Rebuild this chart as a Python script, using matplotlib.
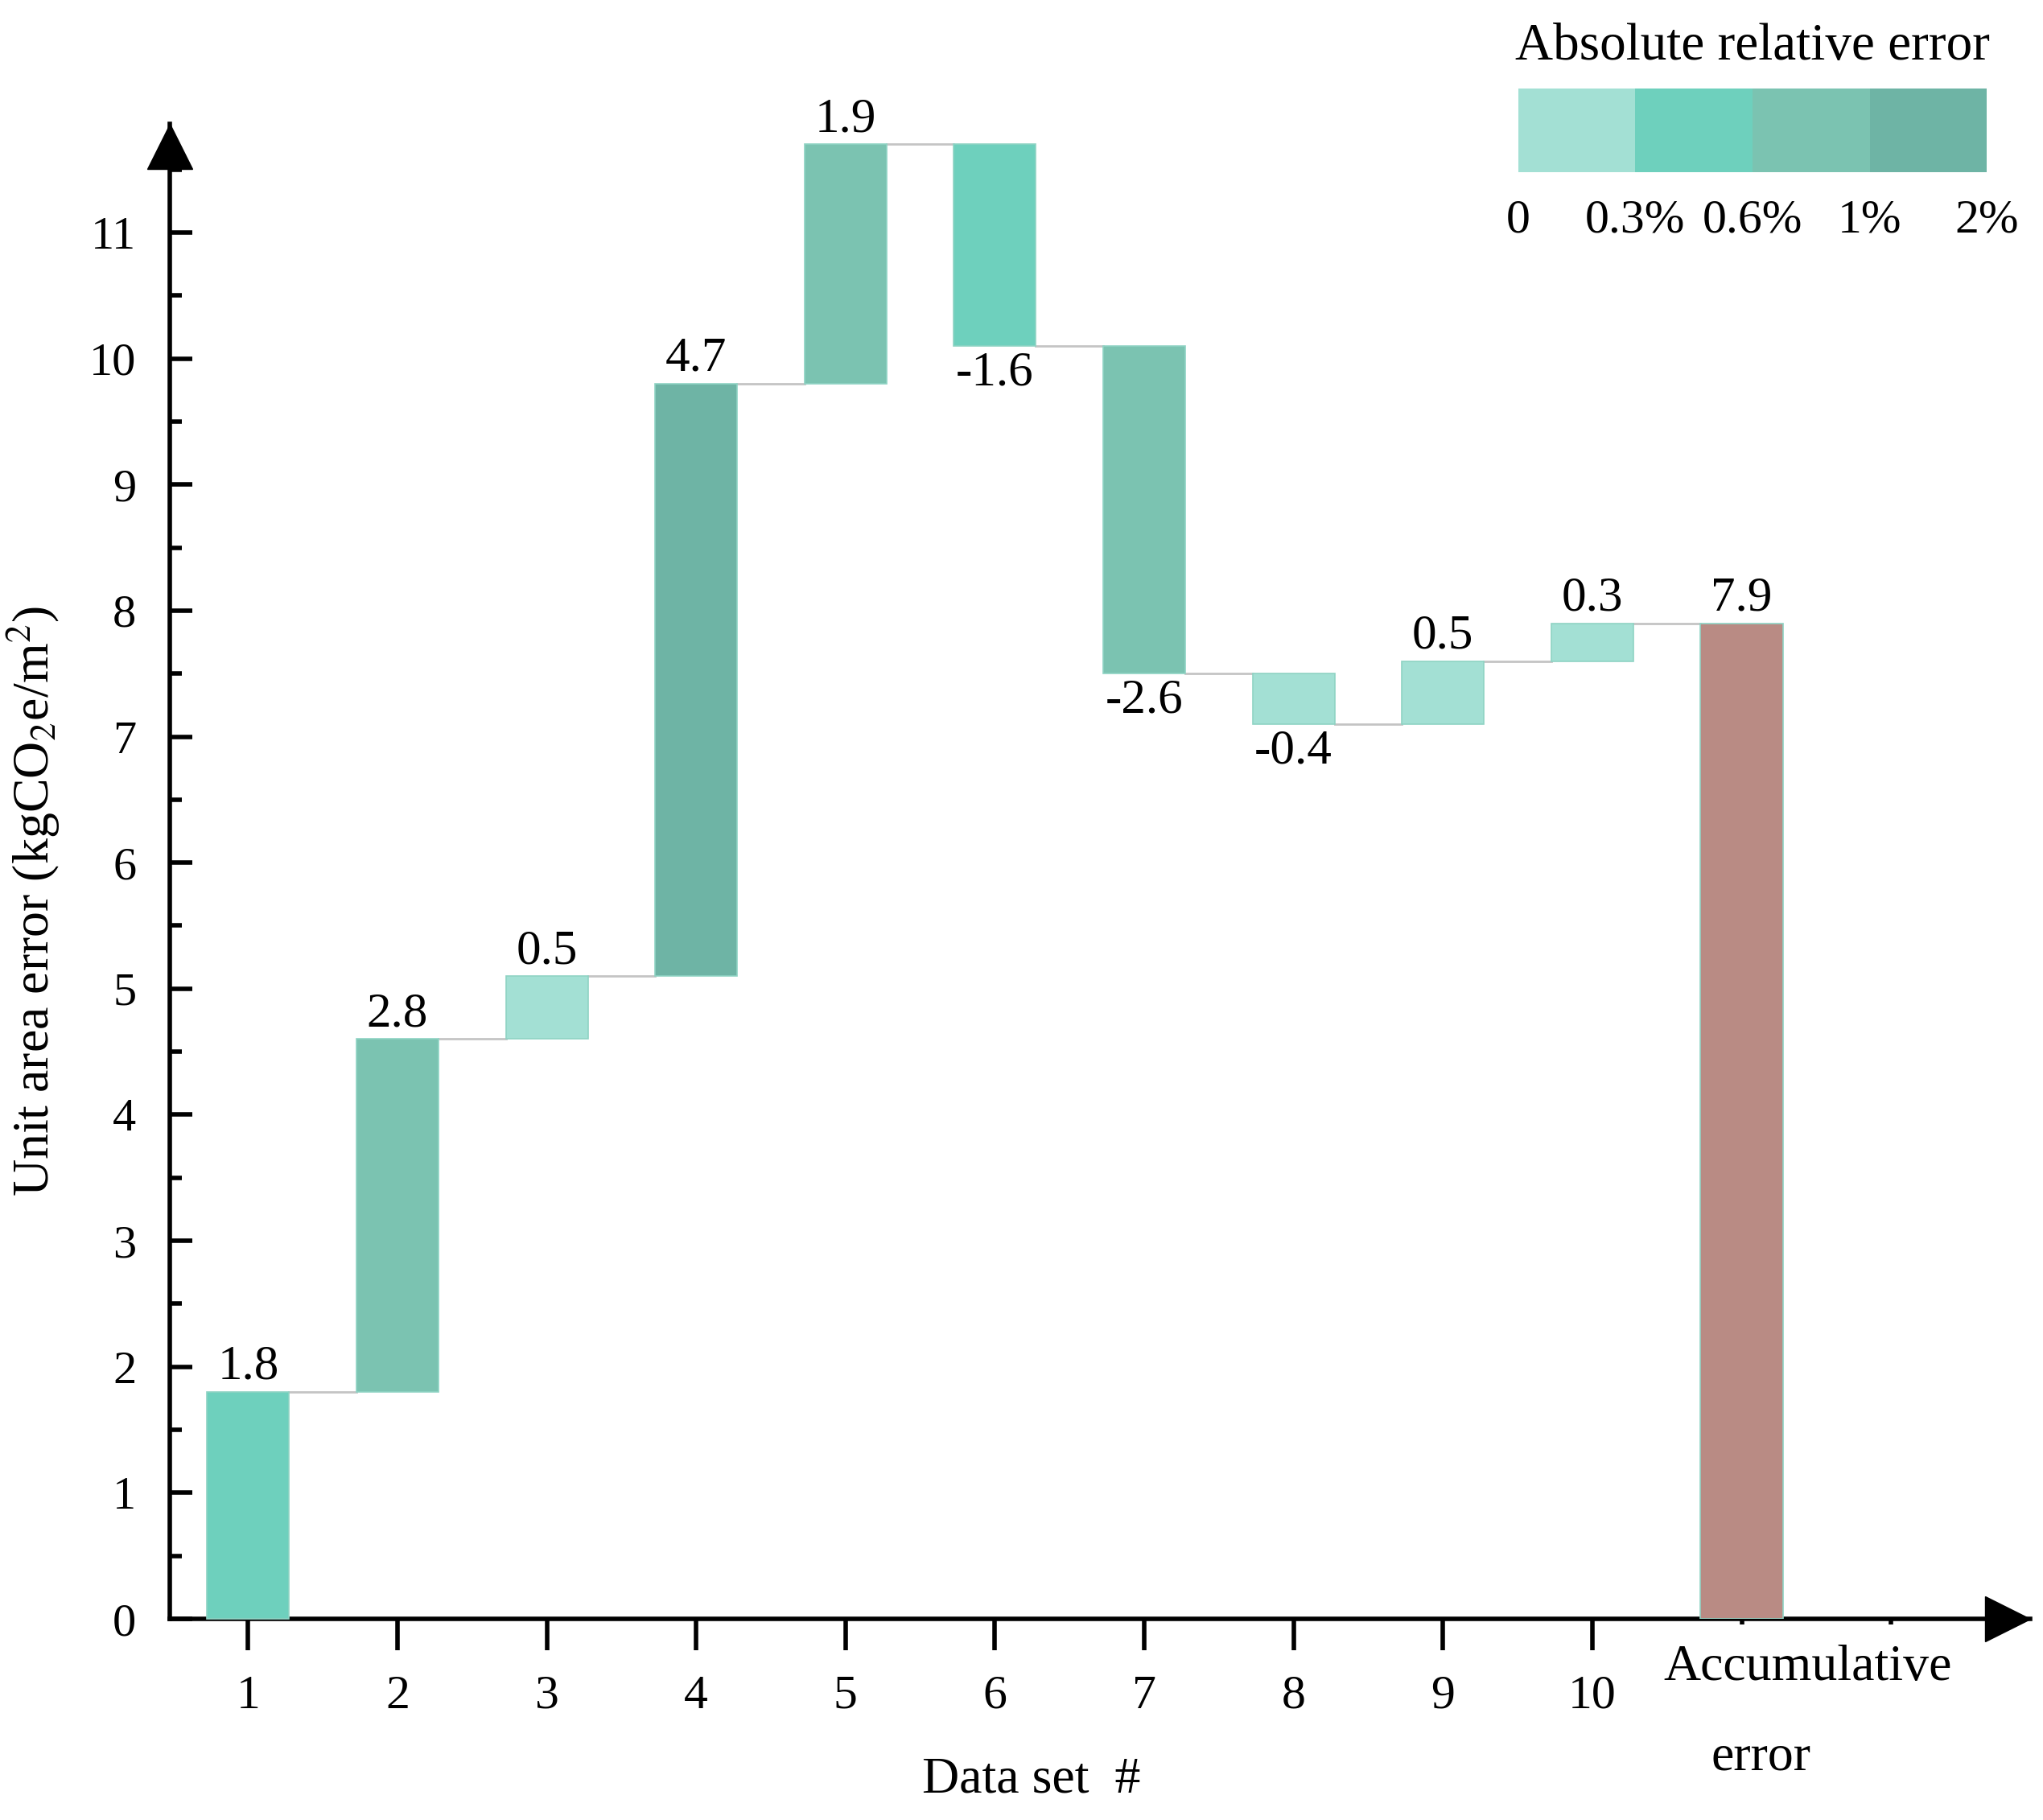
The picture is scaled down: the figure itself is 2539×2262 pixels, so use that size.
import numpy as np
import matplotlib
matplotlib.use('Agg')
import matplotlib.pyplot as plt
from matplotlib.ticker import MultipleLocator, FixedLocator
from matplotlib.transforms import offset_copy, blended_transform_factory

plt.rcParams['font.family'] = ['Liberation Serif', 'DejaVu Serif']
plt.rcParams['mathtext.fontset'] = 'stix'

# data
data_sets = [1, 2, 3, 4, 5, 6, 7, 8, 9, 10]
changes = [1.8, 2.8, 0.5, 4.7, 1.9, -1.6, -2.6, -0.4, 0.5, 0.3]
accumulative = 7.9
error_class = [1, 2, 0, 3, 2, 1, 2, 0, 0, 0]   # index into legend classes
class_labels = ['0', '0.3%', '0.6%', '1%', '2%']
class_colors = ['#A3E0D4', '#6ED0BD', '#7BC3B1', '#6EB4A5']
accum_color = '#B98B84'

W, H = 1565.0, 1394.0   # reference layout units
fig = plt.figure(figsize=(25.39, 22.62), dpi=100)
ax = fig.add_axes([130 / W, 1 - 1240 / H, (1555 - 130) / W, (1240 - 95) / H])

width = 0.55
cum = np.cumsum(changes)
starts = cum - np.array(changes)

for i, x in enumerate(data_sets):
    lo, hi = min(starts[i], cum[i]), max(starts[i], cum[i])
    ax.bar(x, hi - lo, bottom=lo, width=width, color=class_colors[error_class[i]],
           edgecolor='#8FD3C4', linewidth=1.2, zorder=3, clip_on=False)
    if changes[i] >= 0:
        ax.text(x, hi + 0.02, f'{changes[i]:.1f}', ha='center', va='bottom', fontsize=44)
    else:
        ax.text(x, lo - 0.04, f'{changes[i]:.1f}', ha='center', va='top', fontsize=44)

acc_x = len(data_sets) + 1
ax.bar(acc_x, accumulative, width=width, color=accum_color, edgecolor='#8FD3C4',
       linewidth=1.2, zorder=3)
ax.text(acc_x, accumulative + 0.02, f'{accumulative:.1f}', ha='center', va='bottom', fontsize=44)

# connectors
xs = data_sets + [acc_x]
for i in range(len(data_sets)):
    ax.plot([xs[i] + width / 2, xs[i + 1] - width / 2], [cum[i], cum[i]],
            color='#C4C4C4', lw=2, zorder=2)

ax.set_xlim(0.475, 12.93)
ax.set_ylim(0, 11.86)

for s in ['top', 'right']:
    ax.spines[s].set_visible(False)
for s in ['left', 'bottom']:
    ax.spines[s].set_linewidth(4)

# arrow heads
ms = 40
ax.plot(0, 1, marker='^', ms=ms, color='black', clip_on=False,
        transform=offset_copy(ax.transAxes, fig, x=0, y=-ms / 2, units='points'))
ax.plot(1, 0, marker='>', ms=ms, color='black', clip_on=False,
        transform=offset_copy(ax.transAxes, fig, x=-ms / 2, y=0, units='points'))

ax.yaxis.set_major_locator(MultipleLocator(1))
ax.yaxis.set_minor_locator(MultipleLocator(0.5))
ax.set_yticks(np.arange(0, 12))
ax.tick_params(axis='y', which='major', direction='in', length=20, width=4, pad=30, labelsize=42)
ax.tick_params(axis='y', which='minor', direction='in', length=11, width=4)

ax.set_xticks(data_sets)
ax.set_xticklabels([str(d) for d in data_sets])
ax.xaxis.set_minor_locator(FixedLocator([11, 12]))
ax.tick_params(axis='x', which='major', direction='out', length=28, width=4, pad=22, labelsize=43)
ax.tick_params(axis='x', which='minor', direction='out', length=5, width=4)

tr = blended_transform_factory(ax.transData, ax.transAxes)
ax.text(11.44, -0.033, 'Accumulative', transform=tr, ha='center', va='center', fontsize=46)
ax.text(11.13, -0.093, 'error', transform=tr, ha='center', va='center', fontsize=46)

ax.set_xlabel('Data set  #', fontsize=46)
ax.xaxis.set_label_coords(0.463, -0.092)
ax.set_ylabel(r'Unit area error (kgCO$_2$e/m$^2$)', fontsize=46)
ax.yaxis.set_label_coords(-0.058, 0.48)

# colour legend
lax = fig.add_axes([1163 / W, 1 - 132 / H, (1522 - 1163) / W, 64 / H])
lax.bar(np.arange(4), 1, width=1, align='edge', color=class_colors, linewidth=0)
lax.set_xlim(0, 4)
lax.set_ylim(0, 1)
lax.set_xticks(np.arange(5))
lax.set_xticklabels(class_labels, fontsize=43)
lax.set_yticks([])
lax.tick_params(axis='x', length=0, pad=24)
for s in lax.spines.values():
    s.set_visible(False)
lax.set_title('Absolute relative error', fontsize=47, pad=26)

fig.savefig('out.png', dpi=100)
